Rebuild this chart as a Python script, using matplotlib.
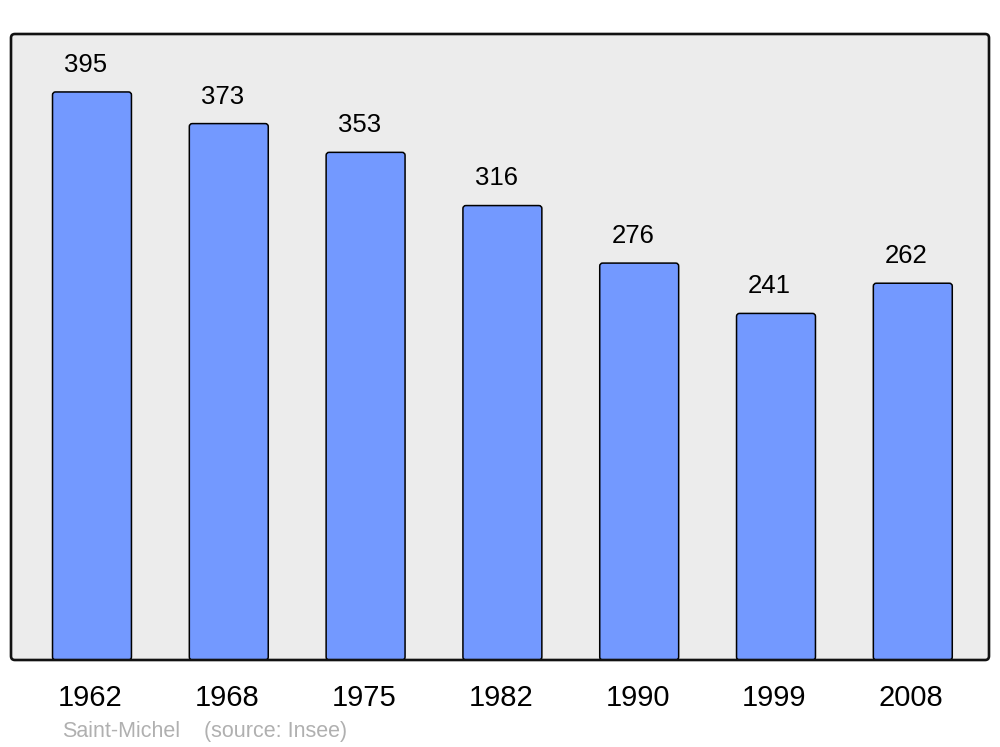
import matplotlib
matplotlib.use("Agg")
import matplotlib.pyplot as plt
import matplotlib.transforms as mtransforms
from matplotlib.patches import FancyBboxPatch

years = ["1962", "1968", "1975", "1982", "1990", "1999", "2008"]
population = [395, 373, 353, 316, 276, 241, 262]
footer_name = "Saint-Michel"
footer_source = "(source: Insee)"

plt.rcParams['font.family'] = ['Liberation Sans', 'DejaVu Sans']

fig = plt.figure(figsize=(10, 7.47), dpi=100)
ax = fig.add_axes([0.011, 1 - 660 / 747, 0.978, (660 - 34) / 747])
ax.set_xlim(-0.592, 6.557)
ax.set_ylim(0, 435.3)
ax.set_facecolor('none')
for s in ax.spines.values():
    s.set_visible(False)

# rounded background frame
bg = FancyBboxPatch((0, 0), 1, 1, boxstyle="round,pad=0,rounding_size=0.004",
                    transform=ax.transAxes, facecolor='#ececec', edgecolor='none',
                    zorder=0, clip_on=False, mutation_aspect=978 / 626)
ax.add_patch(bg)

x = list(range(len(years)))
bars = ax.bar(x, population, width=0.577, color='none', edgecolor='none')
xu = 136.8
yu = 568 / 395
for b in bars:
    p = FancyBboxPatch((b.get_x(), b.get_y()), b.get_width(), b.get_height(),
                       boxstyle="round,pad=0,rounding_size=%f" % (3 / xu),
                       mutation_aspect=xu / yu,
                       facecolor='#7399ff', edgecolor='black', linewidth=1.1, zorder=2)
    ax.add_patch(p)

for xi, v in zip(x, population):
    ax.annotate(str(v), (xi, v), xytext=(-4.5, 19.5), textcoords='offset points',
                ha='center', va='center', fontsize=18.5, color='black')

frame = FancyBboxPatch((0, 0), 1, 1, boxstyle="round,pad=0,rounding_size=0.004",
                       transform=ax.transAxes, facecolor='none', edgecolor='#111111',
                       linewidth=1.9, zorder=5, clip_on=False, mutation_aspect=978 / 626)
ax.add_patch(frame)

ax.set_xticks(x)
ax.set_xticklabels(years, fontsize=21)
ax.tick_params(axis='x', length=0, pad=17)
ax.set_yticks([])
shift = mtransforms.ScaledTranslation(-1.5 / 100, 0, fig.dpi_scale_trans)
for lab in ax.get_xticklabels():
    lab.set_transform(lab.get_transform() + shift)

fig.text(62 / 1000, 1 - 731.5 / 747, footer_name, fontsize=15.5, color='#b0b0b0',
         ha='left', va='center')
fig.text(204 / 1000, 1 - 731.5 / 747, footer_source, fontsize=15.5, color='#b0b0b0',
         ha='left', va='center')

fig.savefig("out.png", dpi=100)
